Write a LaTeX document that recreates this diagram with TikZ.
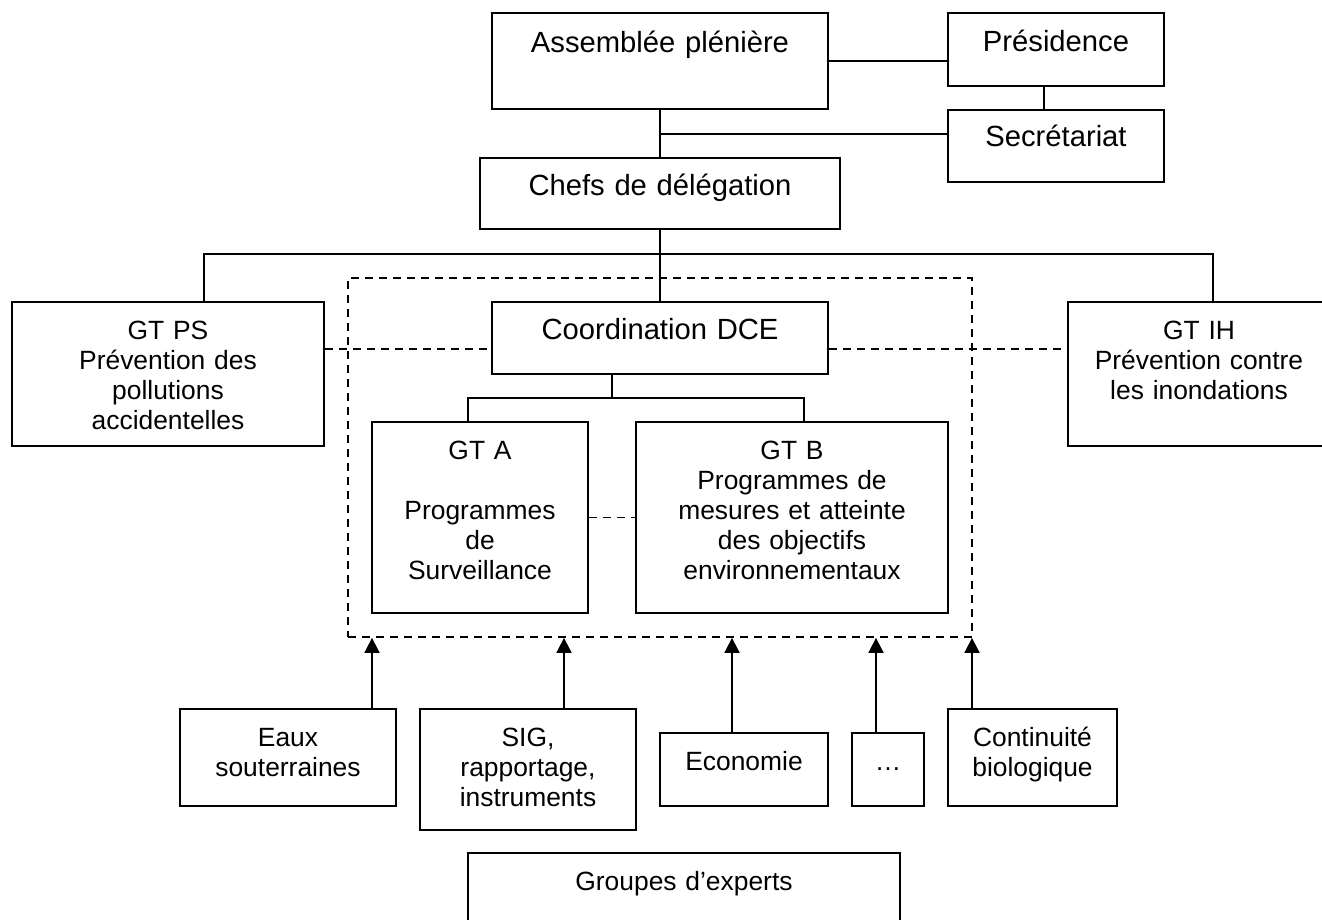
\documentclass[tikz,border=0pt]{standalone}
\usepackage{fontspec}
\setmainfont{Liberation Sans}
\usetikzlibrary{arrows.meta}

\begin{document}
\begin{tikzpicture}[%
    x=0.5pt, y=-0.5pt,                      % one unit per sketch pixel, y going down
    >={Triangle[width=7.5pt,length=7.5pt]}, % filled arrow heads
    line width=0.9pt,
    ]
% -------------------------------------------------
% Box styles: text sits at the top, box size set by text width/depth
\tikzset{
  box/.style={draw, inner sep=0pt, anchor=base, align=center, text height=18.5pt},
  bigbox/.style={box, font=\fontsize{14.6}{15}\selectfont},
  gtbox/.style={box, font=\fontsize{13.2}{15}\selectfont},
  % Connector line styles
  link/.style={draw},
  coop/.style={draw, dash pattern=on 4pt off 3pt},
  feed/.style={->, draw},
}
\useasboundingbox (0,0) rectangle (1322,920);
% -------------------------------------------------
% Plenary level
\node [bigbox, text width=168pt, text height=20pt, text depth=28pt] (asm) at (660,53) {Assemblée plénière};
\node [bigbox, text width=108pt, text height=19.5pt, text depth=17pt] (pres) at (1056,52) {Présidence};
\node [bigbox, text width=108pt, text depth=17.5pt] (secr) at (1056,147) {Secrétariat};
\node [bigbox, text width=180pt, text depth=17pt] (chefs) at (660,195) {Chefs de délégation};

% Working groups
\node [gtbox, text width=156pt, text depth=53.5pt] (gtps) at (168,339) {GT PS\\Prévention des\\pollutions\\accidentelles};
\node [bigbox, text width=168pt, text depth=17.5pt] (coord) at (660,339) {Coordination DCE};
\node [gtbox, text width=131pt, text depth=53.5pt] (gtih) at (1199,339) {GT IH\\Prévention contre\\les inondations};
\node [gtbox, text width=108pt, text depth=77pt] (gta) at (480,459) {GT A\\[15pt]Programmes\\de\\Surveillance};
\node [gtbox, text width=156pt, text depth=77pt] (gtb) at (792,459) {GT B\\Programmes de\\mesures et atteinte\\des objectifs\\environnementaux};
\node [coop, minimum width=312pt, minimum height=179.5pt, inner sep=0pt] (dce) at (660,457.5) {};

% Expert groups
\node [gtbox, text width=108pt, text depth=30pt] (eaux) at (288,746) {Eaux\\souterraines};
\node [gtbox, text width=108pt, text depth=42pt] (sig) at (528,746) {SIG,\\rapportage,\\instruments};
\node [gtbox, text width=84pt, text depth=18pt] (eco) at (744,770) {Economie};
\node [gtbox, text width=36pt, text depth=18pt] (dots) at (888,770) {…};
\node [gtbox, text width=84.5pt, text depth=30pt] (cont) at (1032.5,746) {Continuité\\biologique};
\node [gtbox, text width=216pt, text depth=50pt] (grp) at (684,890) {Groupes d’experts};

% -------------------------------------------------
% Connectors
\coordinate (j1) at (660,134);
\coordinate (j2) at (660,254);
\coordinate (j3) at (612,398);
\coordinate (d1) at (660,349);

\draw[link] (asm.east) -- (asm.east -| pres.west);
\draw[link] ([xshift=-6pt]pres.south) -- ([xshift=-6pt]secr.north);
\draw[link] (asm) -- (chefs);
\draw[link] (j1) -- (j1 -| secr.west);
\draw[link] (chefs) -- (coord);
\draw[link] ([xshift=18pt]gtps.north) |- (j2) -| ([xshift=7pt]gtih.north);
\draw[link] (j3 |- coord.south) -- (j3);
\draw[link] ([xshift=-6pt]gta.north) |- (j3) -| ([xshift=6pt]gtb.north);

\draw[coop] (gtps.east |- d1) -- (coord.west |- d1);
\draw[coop] (coord.east |- d1) -- (gtih.west |- d1);
\draw[coop] (gta) -- (gtb);

\foreach \n/\dx in {eaux/42pt, sig/18pt, eco/-6pt, dots/-6pt, cont/-30.25pt}
  \draw[feed] ([xshift=\dx]\n.north) -- ([xshift=\dx]\n.north |- dce.south);
% -------------------------------------------------
\end{tikzpicture}
\end{document}
